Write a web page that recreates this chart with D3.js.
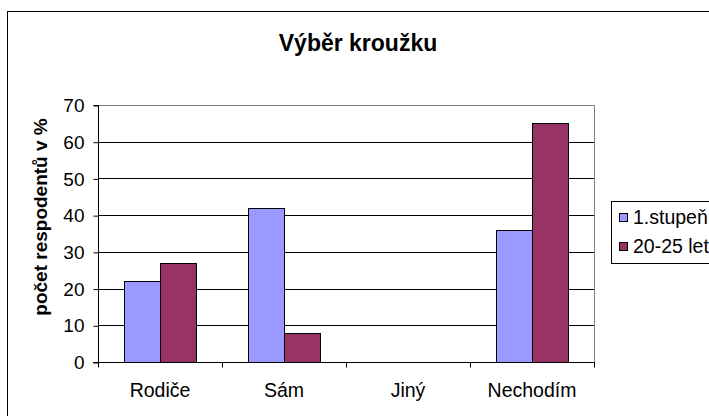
<!DOCTYPE html>
<html><head><meta charset="utf-8">
<script src="https://cdn.jsdelivr.net/npm/d3@7/dist/d3.min.js"></script>
<style>body{margin:0;background:#fff}svg{display:block;font-family:"Liberation Sans",Arial,sans-serif}</style>
</head><body>
<script>
const categories = ["Rodiče", "Sám", "Jiný", "Nechodím"];
const seriesNames = ["1.stupeň", "20-25 let"];
const series1 = [22, 42, 0, 36];
const series2 = [27, 8, 0, 65];
const yTicks = [0, 10, 20, 30, 40, 50, 60, 70];
const colors = ["#9999FF", "#993366"];

const W = 709, H = 416;
const svg = d3.select("body").append("svg").attr("width", W).attr("height", H);

// outer frame
svg.append("rect").attr("x", 7.5).attr("y", 11.5).attr("width", 800).attr("height", 500)
  .attr("fill", "none").attr("stroke", "#000").attr("stroke-width", 1);

const pLeft = 98, pRight = 594, pTop = 105, pBottom = 362;
const x = d3.scaleBand().domain(categories).range([pLeft, pRight]).paddingInner(0).paddingOuter(0);
const y = d3.scaleLinear().domain([0, 70]).range([pBottom, pTop]);
const inner = d3.scaleBand().domain([0, 1]).range([0, x.bandwidth()]).paddingOuter(0.72).paddingInner(0);

// gridlines
svg.append("g").selectAll("line").data(yTicks.filter(d => d > 0 && d < 70)).join("line")
  .attr("x1", pLeft).attr("x2", pRight)
  .attr("y1", d => Math.round(y(d)) + 0.5).attr("y2", d => Math.round(y(d)) + 0.5)
  .attr("stroke", "#000").attr("stroke-width", 1);

// plot border (top & right)
svg.append("path")
  .attr("d", `M${pLeft},${Math.round(y(70)) + 0.5}H${pRight + 0.5}V${pBottom}`)
  .attr("fill", "none").attr("stroke", "#808080").attr("stroke-width", 1);

// bars
const data = categories.map((c, i) => ({ c, vals: [series1[i], series2[i]] }));
const g = svg.append("g").selectAll("g").data(data).join("g")
  .attr("transform", d => `translate(${x(d.c)},0)`);
g.selectAll("rect").data(d => d.vals.map((v, k) => ({ v, k })).filter(e => e.v > 0)).join("rect")
  .attr("x", d => Math.round(inner(d.k)) + 0.5)
  .attr("width", Math.round(inner.bandwidth()))
  .attr("y", d => Math.round(y(d.v)) + 0.5)
  .attr("height", d => Math.round(pBottom - y(d.v)))
  .attr("fill", d => colors[d.k]).attr("stroke", "#000").attr("stroke-width", 1);

// y axis
const yAxis = svg.append("g").attr("transform", `translate(${pLeft + 0.5},0.5)`)
  .call(d3.axisLeft(y).tickValues(yTicks).tickSize(5).tickPadding(9));
yAxis.select(".domain").attr("stroke", "#000").attr("d", `M-5,${Math.round(y(70))}H0V${pBottom}`);
yAxis.selectAll("line").attr("stroke", "#000");
yAxis.selectAll("text").attr("font-size", 19).attr("fill", "#000")
  .attr("font-family", "Liberation Sans, Arial, sans-serif");

// x axis
const xAxis = svg.append("g").attr("transform", `translate(0,${pBottom + 0.5})`);
xAxis.append("line").attr("x1", pLeft - 5).attr("x2", pRight + 1).attr("y1", 0).attr("y2", 0).attr("stroke", "#000");
const edges = categories.map(c => x(c)).concat([x(categories[categories.length - 1]) + x.bandwidth()]);
xAxis.selectAll("line.t").data(edges).join("line").attr("class", "t")
  .attr("x1", d => Math.round(d) + 0.5).attr("x2", d => Math.round(d) + 0.5)
  .attr("y1", 0).attr("y2", 5).attr("stroke", "#000");
xAxis.selectAll("text").data(categories).join("text")
  .attr("x", d => x(d) + x.bandwidth() / 2).attr("y", 34)
  .attr("text-anchor", "middle").attr("font-size", 19.5).attr("fill", "#000").text(d => d);

// title
svg.append("text").attr("x", 358).attr("y", 51).attr("text-anchor", "middle")
  .attr("font-size", 23).attr("font-weight", "bold").text("Výběr kroužku");

// y axis title
svg.append("text").attr("transform", `translate(47,217) rotate(-90)`)
  .attr("text-anchor", "middle").attr("font-size", 19).attr("font-weight", "bold")
  .text("počet respodentů v %");

// legend
const lg = svg.append("g");
lg.append("rect").attr("x", 611.5).attr("y", 201.5).attr("width", 200).attr("height", 62)
  .attr("fill", "#fff").attr("stroke", "#000");
const items = lg.selectAll("g").data(seriesNames).join("g")
  .attr("transform", (d, i) => `translate(619,${213 + i * 29})`);
items.append("rect").attr("x", 0.5).attr("y", 0.5).attr("width", 8).attr("height", 8)
  .attr("fill", (d, i) => colors[i]).attr("stroke", "#000");
items.append("text").attr("x", 14).attr("y", 11).attr("font-size", 19.5).text(d => d);
</script>
</body></html>
